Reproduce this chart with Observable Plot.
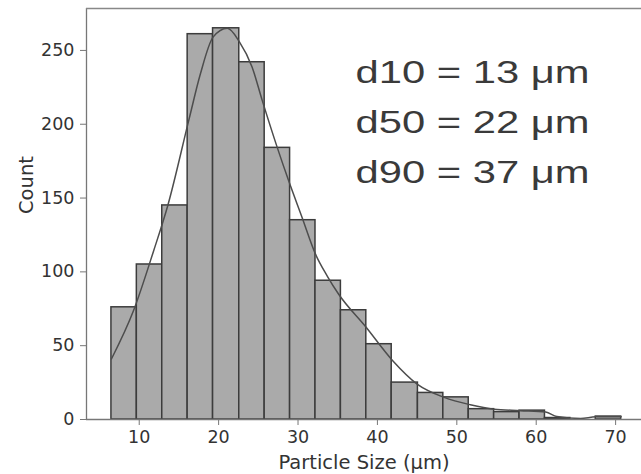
<!DOCTYPE html>
<html>
<head>
<meta charset="utf-8">
<script src="https://cdn.jsdelivr.net/npm/d3@7"></script>
<script src="https://cdn.jsdelivr.net/npm/@observablehq/plot@0.6"></script>
<style>
  html, body { margin: 0; padding: 0; background: #fff; }
</style>
</head>
<body>
<div id="chart"></div>
<script>
// Histogram bin edges (µm) and counts
const binEdges = [6.5, 9.7, 12.9, 16.1, 19.3, 22.6, 25.8, 29.0, 32.2, 35.4, 38.6, 41.8, 45.1, 48.3, 51.5, 54.7, 57.9, 61.1, 64.3, 67.5, 70.7];
const counts   = [76, 105, 145, 261, 265, 242, 184, 135, 94, 74, 51, 25, 18, 15, 7, 5, 6, 1, 0, 2];

// KDE curve
const kdeX = [6.5, 9.3, 11.8, 13.6, 16.3, 17.7, 19.3, 21.1, 22.6, 24.2, 25.5, 27.4, 28.8, 30.5, 32.2, 33.7, 35.1, 38.5, 41.9, 45.0, 48.4, 51.7, 54.7, 58.0, 61.2, 62.6, 65.6, 67.5, 70.7];
const kdeY = [41, 74, 114, 145, 204, 234, 259, 265, 256, 239, 216, 184, 162, 137, 112, 97, 85, 63, 40, 24, 15, 10, 7, 6, 5, 2, 0.7, 1.8, 1.8];

// Axis ticks
const xTicks = [10, 20, 30, 40, 50, 60, 70];
const yTicks = [0, 50, 100, 150, 200, 250];
const xLabel = "Particle Size (μm)";
const yLabel = "Count";

// Annotations
const annotations = ["d10 = 13 μm", "d50 = 22 μm", "d90 = 37 μm"];

const xDomain = [3.36, 73.26];
const yDomain = [0, 278.4];

const bars = counts.map((c, i) => ({x1: binEdges[i], x2: binEdges[i + 1], count: c}));
const kde = kdeX.map((x, i) => ({x, y: kdeY[i]}));

const chart = Plot.plot({
  width: 641,
  height: 474,
  marginLeft: 86,
  marginRight: 0,
  marginTop: 8,
  marginBottom: 55,
  style: {fontFamily: "DejaVu Sans", fontSize: "17.5px", color: "#333", background: "#fff"},
  x: {domain: xDomain, ticks: xTicks, label: null},
  y: {domain: yDomain, ticks: yTicks, label: null},
  marks: [
    Plot.rectY(bars, {x1: "x1", x2: "x2", y: "count", fill: "#aaaaaa", stroke: "#3c3c3c", strokeWidth: 1.5, insetLeft: 0, insetRight: 0}),
    Plot.line(kde, {x: "x", y: "y", stroke: "#4d4d4d", strokeWidth: 1.5, curve: "monotone-x"}),
    Plot.ruleX([xDomain[0]], {stroke: "#777", strokeWidth: 1.3}),
    Plot.ruleY([yDomain[0]], {stroke: "#777", strokeWidth: 1.3}),
    Plot.ruleY([yDomain[1]], {stroke: "#888", strokeWidth: 1.3}),
    Plot.axisX({ticks: xTicks, tickSize: 6, tickPadding: 5, stroke: "#777", label: null, fontSize: 17.5}),
    Plot.axisY({ticks: yTicks, tickSize: 6, tickPadding: 6, stroke: "#777", label: null, fontSize: 17.5}),
    Plot.text([xLabel], {frameAnchor: "bottom", dy: 49, lineAnchor: "bottom", fontSize: 19.5, fill: "#333"}),
    Plot.text([yLabel], {frameAnchor: "left", dx: -54, rotate: -90, lineAnchor: "bottom", fontSize: 19.5, fill: "#333"}),
    Plot.text(annotations, {
      frameAnchor: "top-left",
      x: () => 37.24,
      y: (d, i) => 227.7 - 33.9 * i,
      textAnchor: "start",
      lineAnchor: "bottom",
      fontSize: 31,
      fontFamily: "Liberation Sans",
      fill: "#3a3a3a"
    })
  ]
});

document.getElementById("chart").appendChild(chart);

// widen annotation text to match the reference
d3.select(chart).selectAll("text")
  .filter(function () { return annotations.includes(this.textContent); })
  .attr("textLength", 234)
  .attr("lengthAdjust", "spacingAndGlyphs");
</script>
</body>
</html>
